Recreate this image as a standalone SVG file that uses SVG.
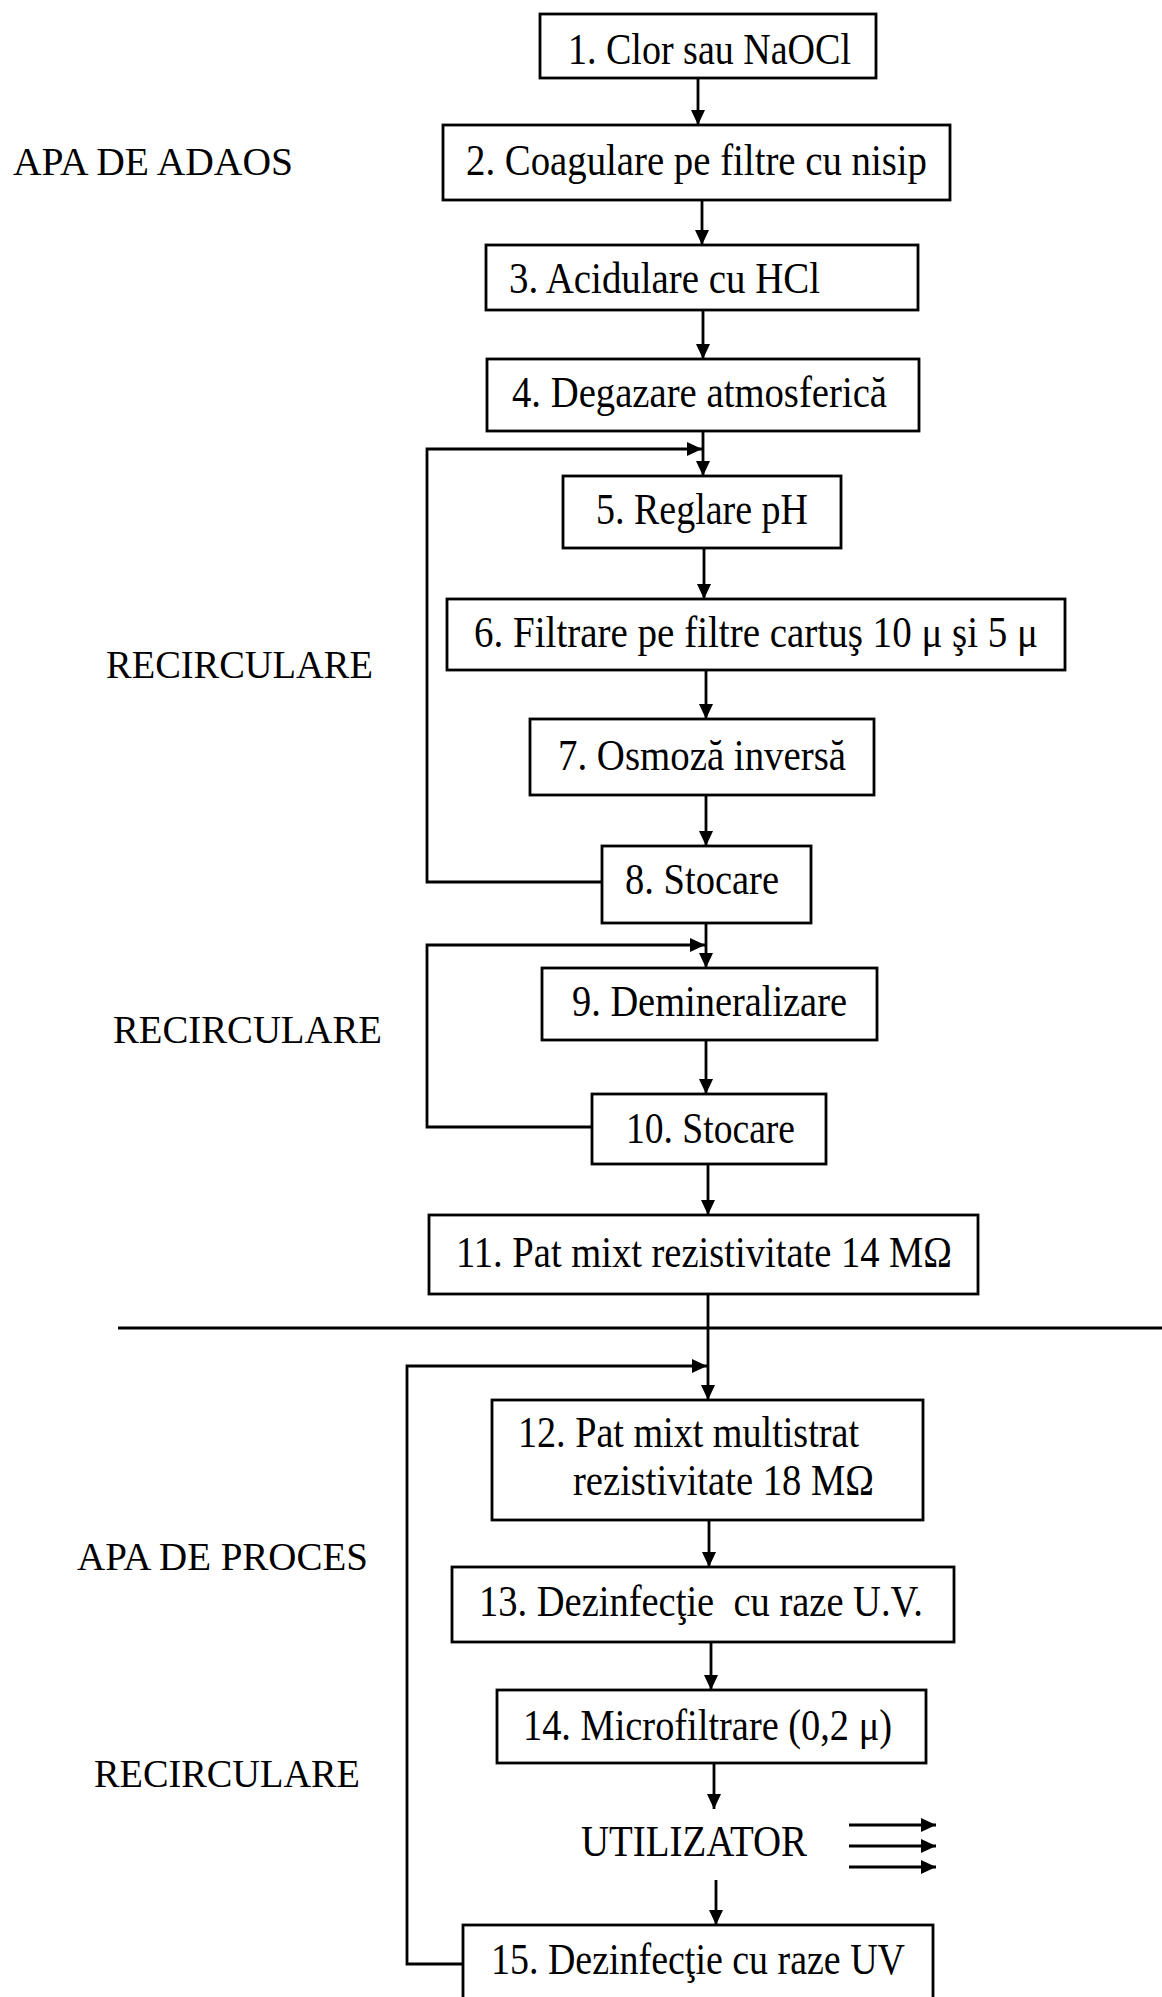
<svg xmlns="http://www.w3.org/2000/svg" width="1162" height="1997" viewBox="0 0 1162 1997">
<defs>
<marker id="ah" markerUnits="userSpaceOnUse" markerWidth="16" markerHeight="14" refX="15" refY="7" orient="auto">
<path d="M0,0 L15,7 L0,14 z" fill="#000"/>
</marker>
</defs>
<style>
.box{fill:#fff;stroke:#000;stroke-width:2.8}
.t{font-family:"Liberation Serif","Times New Roman",serif;font-size:45px;fill:#000}
.lbl{font-family:"Liberation Serif","Times New Roman",serif;font-size:39px;fill:#000}
.ln{fill:none;stroke:#000;stroke-width:2.8}
.ar{fill:none;stroke:#000;stroke-width:2.8;marker-end:url(#ah)}
</style>
<rect width="1162" height="1997" fill="#fff"/>

<g id="labels">
<text class="lbl" x="13" y="175" textLength="280" lengthAdjust="spacingAndGlyphs">APA DE ADAOS</text>
<text class="lbl" x="106" y="678" textLength="267" lengthAdjust="spacingAndGlyphs">RECIRCULARE</text>
<text class="lbl" x="113" y="1043" textLength="269" lengthAdjust="spacingAndGlyphs">RECIRCULARE</text>
<text class="lbl" x="77" y="1570" textLength="291" lengthAdjust="spacingAndGlyphs">APA DE PROCES</text>
<text class="lbl" x="94" y="1787" textLength="266" lengthAdjust="spacingAndGlyphs">RECIRCULARE</text>
</g>

<g id="connectors">
<line class="ar" x1="698" y1="78" x2="698" y2="125"/>
<line class="ar" x1="702" y1="200" x2="702" y2="245"/>
<line class="ar" x1="703" y1="310" x2="703" y2="359"/>
<line class="ar" x1="703" y1="431" x2="703" y2="476"/>
<line class="ar" x1="704" y1="548" x2="704" y2="599"/>
<line class="ar" x1="706" y1="670" x2="706" y2="719"/>
<line class="ar" x1="706" y1="795" x2="706" y2="846"/>
<line class="ar" x1="706" y1="923" x2="706" y2="968"/>
<line class="ar" x1="706" y1="1040" x2="706" y2="1094"/>
<line class="ar" x1="708" y1="1164" x2="708" y2="1215"/>
<line class="ar" x1="708" y1="1294" x2="708" y2="1400"/>
<line class="ar" x1="709" y1="1520" x2="709" y2="1567"/>
<line class="ar" x1="711" y1="1642" x2="711" y2="1690"/>
<line class="ar" x1="714" y1="1763" x2="714" y2="1809"/>
<line class="ar" x1="716" y1="1880" x2="716" y2="1925"/>
<path class="ar" d="M602,882 H427 V449 H702"/>
<path class="ar" d="M592,1127 H427 V945 H705"/>
<path class="ar" d="M463,1964 H407 V1366 H707"/>
<line class="ln" x1="118" y1="1328" x2="1162" y2="1328"/>
<line class="ar" x1="849" y1="1825" x2="936" y2="1825"/>
<line class="ar" x1="849" y1="1846" x2="936" y2="1846"/>
<line class="ar" x1="849" y1="1867" x2="936" y2="1867"/>
</g>

<g id="n1"><rect class="box" x="540" y="14" width="336" height="64"/>
<text class="t" x="568" y="64" textLength="283" lengthAdjust="spacingAndGlyphs">1. Clor sau NaOCl</text></g>
<g id="n2"><rect class="box" x="443" y="125" width="507" height="75"/>
<text class="t" x="466" y="175" textLength="461" lengthAdjust="spacingAndGlyphs">2. Coagulare pe filtre cu nisip</text></g>
<g id="n3"><rect class="box" x="486" y="245" width="432" height="65"/>
<text class="t" x="509" y="293" textLength="311" lengthAdjust="spacingAndGlyphs">3. Acidulare cu HCl</text></g>
<g id="n4"><rect class="box" x="487" y="359" width="432" height="72"/>
<text class="t" x="512" y="407" textLength="375" lengthAdjust="spacingAndGlyphs">4. Degazare atmosferică</text></g>
<g id="n5"><rect class="box" x="563" y="476" width="278" height="72"/>
<text class="t" x="596" y="524" textLength="212" lengthAdjust="spacingAndGlyphs">5. Reglare pH</text></g>
<g id="n6"><rect class="box" x="447" y="599" width="618" height="71"/>
<text class="t" x="474" y="647" textLength="564" lengthAdjust="spacingAndGlyphs">6. Filtrare pe filtre cartuş 10 μ şi 5 μ</text></g>
<g id="n7"><rect class="box" x="530" y="719" width="344" height="76"/>
<text class="t" x="558" y="770" textLength="288" lengthAdjust="spacingAndGlyphs">7. Osmoză inversă</text></g>
<g id="n8"><rect class="box" x="602" y="846" width="209" height="77"/>
<text class="t" x="625" y="894" textLength="154" lengthAdjust="spacingAndGlyphs">8. Stocare</text></g>
<g id="n9"><rect class="box" x="542" y="968" width="335" height="72"/>
<text class="t" x="572" y="1016" textLength="275" lengthAdjust="spacingAndGlyphs">9. Demineralizare</text></g>
<g id="n10"><rect class="box" x="592" y="1094" width="234" height="70"/>
<text class="t" x="626" y="1143" textLength="169" lengthAdjust="spacingAndGlyphs">10. Stocare</text></g>
<g id="n11"><rect class="box" x="429" y="1215" width="549" height="79"/>
<text class="t" x="456" y="1267" textLength="496" lengthAdjust="spacingAndGlyphs">11. Pat mixt rezistivitate 14 MΩ</text></g>
<g id="n12"><rect class="box" x="492" y="1400" width="431" height="120"/>
<text class="t" x="518" y="1447" textLength="341" lengthAdjust="spacingAndGlyphs">12. Pat mixt multistrat</text>
<text class="t" x="573" y="1495" textLength="301" lengthAdjust="spacingAndGlyphs">rezistivitate 18 MΩ</text></g>
<g id="n13"><rect class="box" x="452" y="1567" width="502" height="75"/>
<text class="t" x="479" y="1616" textLength="444" lengthAdjust="spacingAndGlyphs" xml:space="preserve">13. Dezinfecţie  cu raze U.V.</text></g>
<g id="n14"><rect class="box" x="497" y="1690" width="429" height="73"/>
<text class="t" x="523" y="1740" textLength="369" lengthAdjust="spacingAndGlyphs">14. Microfiltrare (0,2 μ)</text></g>
<g id="n-util">
<text class="t" x="581" y="1856" textLength="226" lengthAdjust="spacingAndGlyphs">UTILIZATOR</text></g>
<g id="n15"><rect class="box" x="463" y="1925" width="470" height="90"/>
<text class="t" x="491" y="1974" textLength="414" lengthAdjust="spacingAndGlyphs">15. Dezinfecţie cu raze UV</text></g>
</svg>
